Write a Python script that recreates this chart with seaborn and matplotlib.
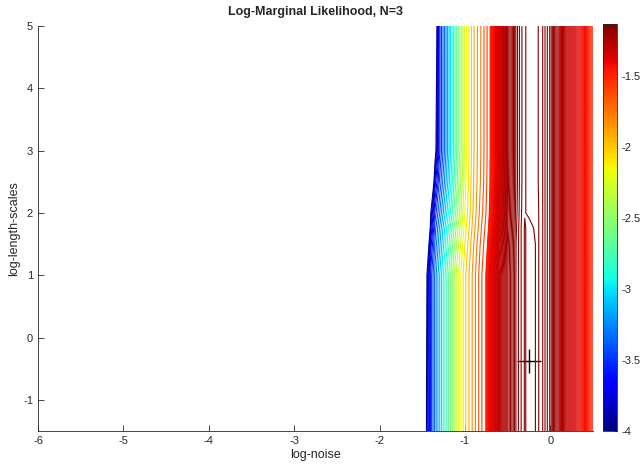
import numpy as np
import matplotlib
matplotlib.use("Agg")
import matplotlib.pyplot as plt
import seaborn as sns
import pandas as pd

# ---- data ----
log_noise = [-1.5, -1.45, -1.4, -1.35, -1.3, -1.2, -1.1, -1.0, -0.9, -0.8, -0.7,
             -0.6, -0.5, -0.4, -0.35, -0.3, -0.25, -0.2, -0.15, -0.1,
             0.0, 0.1, 0.2, 0.3, 0.4, 0.5]
log_length = [-1.5, 1.0, 1.5, 1.75, 2.0, 2.5, 3.0, 5.0]

lml_y_m1_5 = [-6.0, -3.98, -3.55, -3.3, -3.1, -2.7, -2.32, -2.02, -1.8, -1.58, -1.40,
              -1.29, -1.215, -1.163, -1.15, -1.139, -1.143, -1.142, -1.138, -1.145,
              -1.175, -1.235, -1.3, -1.37, -1.435, -1.5]
lml_y_1_0 = [-6.0, -4.05, -3.55, -3.3, -3.1, -2.7, -2.32, -2.02, -1.8, -1.58, -1.40,
             -1.29, -1.215, -1.163, -1.15, -1.139, -1.143, -1.142, -1.138, -1.145,
             -1.175, -1.235, -1.3, -1.37, -1.435, -1.5]
lml_y_1_5 = [-6.0, -4.4, -3.7, -3.4, -3.2, -2.8, -2.42, -2.08, -1.84, -1.62, -1.43,
             -1.305, -1.218, -1.164, -1.15, -1.139, -1.143, -1.142, -1.138, -1.145,
             -1.175, -1.235, -1.3, -1.37, -1.435, -1.5]
lml_y_1_75 = [-6.0, -5.0, -3.85, -3.45, -3.25, -2.85, -2.48, -2.12, -1.87, -1.65, -1.45,
              -1.32, -1.222, -1.166, -1.15, -1.139, -1.143, -1.1402, -1.138, -1.145,
              -1.175, -1.235, -1.3, -1.37, -1.435, -1.5]
lml_y_2_0 = [-6.0, -6.0, -4.0, -3.55, -3.35, -2.95, -2.55, -2.16, -1.9, -1.68, -1.47,
             -1.33, -1.225, -1.168, -1.151, -1.1405, -1.1385, -1.138, -1.138, -1.145,
             -1.175, -1.235, -1.3, -1.37, -1.435, -1.5]
lml_y_2_5 = [-6.0, -6.0, -4.6, -3.8, -3.5, -3.08, -2.63, -2.2, -1.92, -1.71, -1.485,
             -1.345, -1.228, -1.17, -1.152, -1.141, -1.137, -1.136, -1.139, -1.145,
             -1.175, -1.235, -1.3, -1.37, -1.435, -1.5]
lml_y_3_0 = [-6.0, -6.0, -6.0, -4.1, -3.62, -3.15, -2.68, -2.22, -1.93, -1.72, -1.49,
             -1.35, -1.23, -1.17, -1.152, -1.141, -1.137, -1.136, -1.139, -1.145,
             -1.175, -1.235, -1.3, -1.37, -1.435, -1.5]
lml_y_5_0 = [-6.0, -6.0, -6.0, -4.3, -3.62, -3.15, -2.68, -2.22, -1.93, -1.72, -1.49,
             -1.35, -1.23, -1.17, -1.152, -1.141, -1.137, -1.136, -1.139, -1.145,
             -1.175, -1.235, -1.3, -1.37, -1.435, -1.5]

opt_noise = [-0.25]
opt_length = [-0.37]

cbar_ticks = [-4, -3.5, -3, -2.5, -2, -1.5]
x_ticks = [-6, -5, -4, -3, -2, -1, 0]
y_ticks = [-1, 0, 1, 2, 3, 4, 5]

# ---- figure ----
sns.set_style("ticks")
plt.rcParams['font.family'] = ['Liberation Sans', 'DejaVu Sans']

Z = np.array([lml_y_m1_5, lml_y_1_0, lml_y_1_5, lml_y_1_75,
              lml_y_2_0, lml_y_2_5, lml_y_3_0, lml_y_5_0])
X, Y = np.meshgrid(np.array(log_noise), np.array(log_length))

vmin, vmax = -4.0, -1.134
levels = np.concatenate([np.linspace(-4.0, -1.5, 30, endpoint=False),
                         np.linspace(-1.5, -1.14, 45)])

fig = plt.figure(figsize=(6.4, 4.67), dpi=100)
ax = fig.add_axes([0.0594, 0.0771, 0.8672, 0.8672])
cax = fig.add_axes([0.942, 0.0771, 0.022, 0.8715])

norm = matplotlib.colors.Normalize(vmin=vmin, vmax=vmax)
ax.contour(X, Y, Z, levels=levels, cmap='jet', norm=norm, linewidths=0.8)

df = pd.DataFrame({'noise': opt_noise, 'length': opt_length})
sns.scatterplot(data=df, x='noise', y='length', marker='+', s=320, color='black',
                linewidth=1.0, ax=ax, legend=False)

ax.set_xlim(-6, 0.5)
ax.set_ylim(-1.5, 5)
ax.set_xticks(x_ticks)
ax.set_yticks(y_ticks)
ax.set_xticklabels([str(t) for t in x_ticks])
ax.set_yticklabels([str(t) for t in y_ticks])
ax.tick_params(direction='in', length=4, width=0.6, labelsize=8, colors='#262626')
for s in ['top', 'right']:
    ax.spines[s].set_visible(False)
for s in ['left', 'bottom']:
    ax.spines[s].set_linewidth(0.6)
    ax.spines[s].set_color('#262626')
ax.set_xlabel('log-noise', fontsize=9, labelpad=2)
ax.set_ylabel('log-length-scales', fontsize=9, labelpad=2)
ax.set_title('Log-Marginal Likelihood, N=3', fontsize=9, fontweight='bold', pad=8)

sm = matplotlib.cm.ScalarMappable(norm=norm, cmap='jet')
cb = fig.colorbar(sm, cax=cax)
cb.set_ticks(cbar_ticks)
cb.set_ticklabels([f'{t:g}' for t in cbar_ticks])
cb.ax.tick_params(direction='in', length=3, width=0.6, labelsize=8, colors='#262626')
cb.outline.set_linewidth(0.6)

fig.savefig('out.png', dpi=100)
